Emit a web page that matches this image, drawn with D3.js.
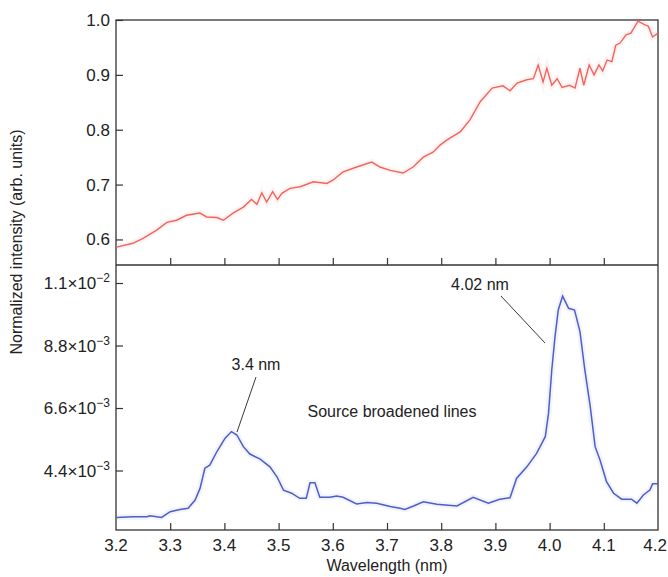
<!DOCTYPE html>
<html>
<head>
<meta charset="utf-8">
<script src="https://cdn.jsdelivr.net/npm/d3@7"></script>
<style>
  body { margin: 0; background: #fff; }
  svg text { font-family: "Liberation Sans Narrow", "Arial Narrow", "Liberation Sans", sans-serif; fill: #222; }
</style>
</head>
<body>
<svg width="668" height="577"></svg>
<script>
// wavelength (nm) / normalized intensity, upper trace
const topWave = [3.201, 3.231, 3.25, 3.275, 3.294, 3.312, 3.33, 3.355, 3.367, 3.386, 3.398, 3.416, 3.435, 3.450, 3.460, 3.469, 3.478, 3.489, 3.498, 3.506, 3.521, 3.54, 3.564, 3.589, 3.60, 3.619, 3.644, 3.672, 3.687, 3.706, 3.73, 3.748, 3.767, 3.785, 3.798, 3.81, 3.835, 3.853, 3.872, 3.894, 3.914, 3.927, 3.94, 3.958, 3.97, 3.979, 3.988, 3.995, 4.004, 4.014, 4.023, 4.037, 4.047, 4.056, 4.063, 4.073, 4.082, 4.091, 4.098, 4.106, 4.115, 4.122, 4.13, 4.141, 4.15, 4.163, 4.176, 4.182, 4.19, 4.2];
const topIntensity = [0.586, 0.593, 0.602, 0.617, 0.631, 0.635, 0.644, 0.648, 0.641, 0.640, 0.635, 0.648, 0.659, 0.673, 0.664, 0.685, 0.668, 0.687, 0.673, 0.684, 0.693, 0.696, 0.705, 0.702, 0.708, 0.723, 0.732, 0.741, 0.732, 0.726, 0.721, 0.732, 0.750, 0.759, 0.772, 0.781, 0.796, 0.818, 0.851, 0.876, 0.880, 0.871, 0.885, 0.891, 0.893, 0.918, 0.887, 0.912, 0.881, 0.893, 0.877, 0.881, 0.876, 0.912, 0.881, 0.918, 0.900, 0.918, 0.907, 0.927, 0.924, 0.954, 0.958, 0.973, 0.976, 0.998, 0.991, 0.989, 0.969, 0.976];

// wavelength (nm) / intensity (x 1e-3), lower trace
const lowWave = [3.201, 3.231, 3.257, 3.263, 3.284, 3.300, 3.318, 3.333, 3.346, 3.355, 3.364, 3.373, 3.386, 3.401, 3.413, 3.423, 3.435, 3.447, 3.466, 3.484, 3.497, 3.509, 3.524, 3.539, 3.551, 3.558, 3.567, 3.576, 3.595, 3.607, 3.619, 3.644, 3.663, 3.681, 3.706, 3.724, 3.733, 3.749, 3.767, 3.792, 3.829, 3.859, 3.887, 3.908, 3.927, 3.939, 3.958, 3.976, 3.992, 3.998, 4.004, 4.010, 4.016, 4.024, 4.035, 4.046, 4.056, 4.065, 4.075, 4.084, 4.093, 4.105, 4.118, 4.133, 4.151, 4.161, 4.173, 4.185, 4.190, 4.200];
const lowIntensity = [2.75, 2.77, 2.77, 2.81, 2.75, 2.95, 3.03, 3.07, 3.36, 3.77, 4.48, 4.59, 5.06, 5.53, 5.77, 5.65, 5.24, 4.98, 4.80, 4.53, 4.18, 3.71, 3.60, 3.42, 3.42, 3.97, 3.97, 3.46, 3.46, 3.50, 3.46, 3.22, 3.27, 3.25, 3.13, 3.07, 3.03, 3.15, 3.30, 3.21, 3.15, 3.46, 3.25, 3.39, 3.44, 4.12, 4.53, 5.00, 5.59, 6.41, 7.94, 9.11, 10.05, 10.54, 10.11, 10.05, 9.29, 7.94, 6.65, 5.24, 4.77, 4.01, 3.60, 3.39, 3.39, 3.25, 3.54, 3.71, 3.93, 3.93];

const xTicks = [3.2, 3.3, 3.4, 3.5, 3.6, 3.7, 3.8, 3.9, 4.0, 4.1, 4.2];
const topTicks = [0.6, 0.7, 0.8, 0.9, 1.0];
const lowTicks = [4.4, 6.6, 8.8, 11];
const lowTickMant = ["4.4", "6.6", "8.8", "1.1"];
const lowTickExp = ["\u22123", "\u22123", "\u22123", "\u22122"];

const svg = d3.select("svg");
const plotL = 116, plotR = 658, plotT = 20, plotM = 265, plotB = 530;
const tick = 7;

const x = d3.scaleLinear().domain([3.2, 4.2]).range([plotL, plotR]);
const yTop = d3.scaleLinear().domain([0.5534, 1.0]).range([plotM, plotT]);
const yLow = d3.scaleLinear().domain([2.306, 11.634]).range([plotB, plotM]);

// --- FRAMES ---
svg.append("rect")
  .attr("x", plotL).attr("y", plotT)
  .attr("width", plotR - plotL).attr("height", plotB - plotT)
  .attr("fill", "none").attr("stroke", "#333").attr("stroke-width", 1.3);
svg.append("line")
  .attr("x1", plotL).attr("x2", plotR).attr("y1", plotM).attr("y2", plotM)
  .attr("stroke", "#333").attr("stroke-width", 1.3);

// --- AXES (ticks pointing inward) ---
const topYAxis = svg.append("g").attr("transform", `translate(${plotL},0)`)
  .call(d3.axisRight(yTop).tickValues(topTicks).tickSize(tick).tickFormat(""));
const lowYAxis = svg.append("g").attr("transform", `translate(${plotL},0)`)
  .call(d3.axisRight(yLow).tickValues(lowTicks).tickSize(tick).tickFormat(""));
const midXAxis = svg.append("g").attr("transform", `translate(0,${plotM})`)
  .call(d3.axisTop(x).tickValues(xTicks.slice(1, -1)).tickSize(tick).tickFormat(""));
const botXAxis = svg.append("g").attr("transform", `translate(0,${plotB})`)
  .call(d3.axisTop(x).tickValues(xTicks.slice(1, -1)).tickSize(tick).tickFormat(""));
[topYAxis, lowYAxis, midXAxis, botXAxis].forEach(g => {
  g.select(".domain").remove();
  g.selectAll("line").attr("stroke", "#333").attr("stroke-width", 1.2);
});

// --- TICK LABELS ---
svg.append("g").selectAll("text")
  .data(topTicks).enter().append("text")
  .attr("x", plotL - 6).attr("y", d => yTop(d) + 6)
  .attr("text-anchor", "end").attr("font-size", 17)
  .text(d => d.toFixed(1));

const lowLab = svg.append("g").selectAll("text")
  .data(lowTicks).enter().append("text")
  .attr("x", plotL - 6).attr("y", d => yLow(d) + 6)
  .attr("text-anchor", "end").attr("font-size", 17);
lowLab.append("tspan").text((d, i) => lowTickMant[i] + "\u00d710");
lowLab.append("tspan").attr("dy", -7).attr("font-size", 12).text((d, i) => lowTickExp[i]);

// last label sits against the page edge, as in the original
svg.append("g").selectAll("text")
  .data(xTicks).enter().append("text")
  .attr("x", (d, i) => i === xTicks.length - 1 ? 667 : x(d)).attr("y", plotB + 21)
  .attr("text-anchor", (d, i) => i === xTicks.length - 1 ? "end" : "middle")
  .attr("font-size", 17)
  .text(d => d.toFixed(1));

// --- AXIS TITLES ---
svg.append("text")
  .attr("transform", "translate(22,242) rotate(-90)")
  .attr("text-anchor", "middle").attr("font-size", 16)
  .text("Normalized intensity (arb. units)");
svg.append("text")
  .attr("x", 387).attr("y", 571)
  .attr("text-anchor", "middle").attr("font-size", 16)
  .text("Wavelength (nm)");

// --- TRACES ---
const topData = topWave.map((w, i) => [w, topIntensity[i]]);
const lowData = lowWave.map((w, i) => [w, lowIntensity[i]]);
const topLine = d3.line().x(d => x(d[0])).y(d => yTop(d[1]));
const lowLine = d3.line().x(d => x(d[0])).y(d => yLow(d[1]));

svg.append("path").datum(topData).attr("d", topLine)
  .attr("fill", "none").attr("stroke", "#f06a62").attr("stroke-width", 6).attr("opacity", 0.08);
svg.append("path").datum(topData).attr("d", topLine)
  .attr("fill", "none").attr("stroke", "#f0645c").attr("stroke-width", 1.4);
svg.append("path").datum(lowData).attr("d", lowLine)
  .attr("fill", "none").attr("stroke", "#5866c8").attr("stroke-width", 6).attr("opacity", 0.08);
svg.append("path").datum(lowData).attr("d", lowLine)
  .attr("fill", "none").attr("stroke", "#4d5ec6").attr("stroke-width", 1.5);

// --- ANNOTATIONS ---
svg.append("text").attr("x", 256).attr("y", 370)
  .attr("text-anchor", "middle").attr("font-size", 16).text("3.4 nm");
svg.append("line").attr("x1", 256).attr("y1", 377).attr("x2", 237).attr("y2", 432)
  .attr("stroke", "#222").attr("stroke-width", 0.9);
svg.append("text").attr("x", 480).attr("y", 290)
  .attr("text-anchor", "middle").attr("font-size", 16).text("4.02 nm");
svg.append("line").attr("x1", 501).attr("y1", 296).attr("x2", 545).attr("y2", 343)
  .attr("stroke", "#222").attr("stroke-width", 0.9);
svg.append("text").attr("x", 392).attr("y", 417)
  .attr("text-anchor", "middle").attr("font-size", 16).text("Source broadened lines");
</script>
</body>
</html>
